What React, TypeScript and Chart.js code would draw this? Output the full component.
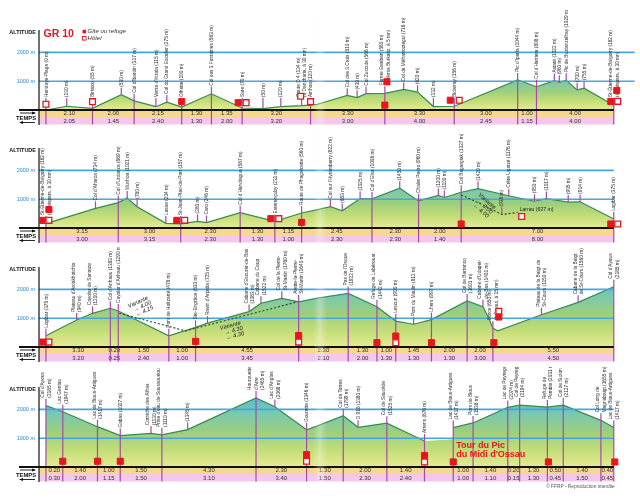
import React, { useEffect, useRef } from "react";
import { Chart, registerables } from "chart.js";

Chart.register(...registerables);

// [label (columns split by \n), km along the strip, profile altitude (m), 1 = full-height marker line]
type WP = [string, number, number, number];
type PT = [number, number];

// ---------- Strip 1 : Hendaye -> St-Étienne-de-Baïgorry ----------
const s1Waypoints: WP[] = [
  ["Hendaye-Plage (0 m)", 0.7, 0, 1],
  ["(130 m)", 2.8, 130, 0],
  ["Biriatou (55 m)", 5.4, 55, 1],
  ["(530 m)", 8.3, 530, 0],
  ["Col d'Ibardin (317 m)", 9.6, 317, 1],
  ["Venta d'Inzola (115 m)", 11.8, 115, 0],
  ["Col du Grand Escalier (275 m)", 12.9, 275, 0],
  ["Olhette (100 m)", 14.4, 100, 1],
  ["Col des 3 Fontaines (563 m)", 17.4, 563, 1],
  ["Sare (70 m)", 20.5, 70, 1],
  ["(50 m)", 22.6, 50, 0],
  ["(120 m)", 24.4, 120, 0],
  ["Route D 4 (134 m)\n(à Dancharia, à 30 mn)", 26.5, 150, 0],
  ["Ainhoa (120 m)", 27.4, 170, 1],
  ["Col des 3 Croix (510 m)", 31.1, 510, 0],
  ["(430 m)", 32.1, 430, 0],
  ["Col Zuccuia (566 m)", 33.0, 566, 0],
  ["Ferme Esteben (580 m)\n(à Venta Burkaitz, à 5 mn)", 34.9, 580, 1],
  ["Col de Méharroztegui (716 m)", 36.8, 716, 0],
  ["(620 m)", 38.2, 620, 0],
  ["(132 m)", 39.8, 120, 0],
  ["Bidarray (156 m)", 41.9, 130, 1],
  ["Pic d'Iparla (1044 m)", 48.3, 1044, 1],
  ["Col d'Harrieta (808 m)", 50.2, 808, 1],
  ["Astaté (1022 m)", 52.0, 1022, 0],
  ["(960 m)", 52.5, 960, 0],
  ["Pic de Buztanzelhay (1029 m)", 53.2, 1029, 0],
  ["(700 m)", 54.3, 700, 0],
  ["(755 m)", 55.0, 755, 0],
  ["St-Étienne-de-Baïgorry (162 m)\n(à Leispars, à 30 mn)", 58.0, 162, 1],
];
const s1Extra: PT[] = [[28.1, 200]];
const s1Yellow = ["2.10", "2.00", "2.15", "1.30", "1.35", "3.20", "3.30", "3.30", "3.00", "1.00", "4.00"];
const s1Pink = ["2.05", "1.45", "2.40", "1.30", "2.00", "3.20", "3.00", "4.00", "2.45", "1.15", "4.00"];
const s1Gites: PT[] = [[14.4, 290], [20.1, 255], [35.1, 980], [34.9, 170], [41.5, 340], [57.7, 300], [58.3, 680]];
const s1Hotels: PT[] = [[0.7, 200], [5.4, 290], [20.9, 255], [26.4, 480], [27.4, 290], [42.4, 340], [58.4, 300]];

// ---------- Strip 2 : St-Étienne -> Logibar ----------
const s2Waypoints: WP[] = [
  ["St-Étienne-de-Baïgorry (162 m)\n(à Leispars, à 30 mn)", 0.7, 150, 1],
  ["Col d'Aharza (734 m)", 5.7, 680, 0],
  ["Col d'Urdanza (869 m)", 8.0, 880, 1],
  ["Munhoa (1021 m)", 8.9, 1040, 0],
  ["(780 m)", 9.9, 740, 0],
  ["Lasse (204 m)", 12.8, 160, 0],
  ["St-Jean-Pied-de-Port (157 m)", 14.3, 140, 1],
  ["(280 m)", 16.0, 230, 0],
  ["Caro (246 m)", 16.9, 190, 0],
  ["Col d'Handiague (587 m)", 20.3, 530, 1],
  ["Estérençuby (231 m)", 23.8, 230, 1],
  ["Route de Phagalcette (560 m)", 26.5, 520, 1],
  ["Col sur l'Hyramberry (822 m)", 29.4, 740, 0],
  ["(653 m)", 30.6, 600, 0],
  ["(1025 m)", 32.4, 1020, 0],
  ["Col d'Elsa (1008 m)", 33.6, 1010, 1],
  ["(1450 m)", 36.4, 1380, 0],
  ["Chalet Pedro (960 m)", 38.3, 940, 1],
  ["(1200 m)", 40.3, 1130, 0],
  ["(1100 m)", 40.9, 1060, 0],
  ["Col Bagargiak (1327 m)", 42.6, 1240, 1],
  ["(1420 m)", 44.3, 1370, 0],
  ["Crête Ugatzé (1176 m)", 47.4, 1120, 0],
  ["(950 m)", 50.0, 930, 0],
  ["(1017 m)", 51.2, 1020, 0],
  ["(905 m)", 53.4, 900, 0],
  ["(914 m)", 54.6, 910, 0],
  ["Logibar (375 m)", 58.0, 310, 1],
];
const s2Extra: PT[] = [[28.1, 640]];
const s2Yellow = ["3.15", "3.00", "2.30", "1.30", "1.15", "2.45", "2.30", "2.00", "7.00"];
const s2Pink = ["3.00", "3.15", "2.30", "1.30", "1.00", "2.30", "2.30", "1.40", "8.00"];
const s2Gites: PT[] = [[0.3, 265], [1.0, 640], [13.9, 265], [23.4, 325], [26.5, 195], [42.6, 140], [57.7, 140]];
const s2Hotels: PT[] = [[1.0, 265], [14.7, 265], [24.2, 325], [48.7, 400], [58.4, 140]];
const s2Variante: PT[] = [[42.6, 1150], [44.8, 800], [46.7, 470], [48.3, 540]];
const s2VarWaypoints: WP[] = [["(938 m)", 46.7, 470, 0]];
const s2VarTexts: [string[], number, number, number][] = [[["Variante", "→ 3.00", "← 4.00"], 45.2, 930, 42]];
const s2Notes: [string, number, number][] = [["Larrau (637 m)", 48.5, 640]];

// ---------- Strip 3 : Logibar -> Col d'Ayous ----------
const s3Waypoints: WP[] = [
  ["Logibar (375 m)", 0.7, 390, 1],
  ["Plateau d'Ardakhotchia\n(940 m)", 3.8, 940, 0],
  ["Cayolar de Sanatze\n(1200 m)", 5.4, 1170, 0],
  ["Col d'Anhaou (1383 m)", 7.2, 1345, 1],
  ["Cayolar d'Anhaou (1290 m)", 8.0, 1250, 1],
  ["Pont de Holtzarté (478 m)", 13.1, 390, 1],
  ["Ste-Engrâce (630 m)", 15.8, 680, 1],
  ["Ravin d'Arpidia (725 m)", 17.0, 830, 0],
  ["Cabane d'Escuret-de-Bas\n(1083 m)", 21.2, 1230, 0],
  ["Cabane du Coup\n(1522 m)", 22.4, 1520, 0],
  ["Col de la Pierre-\nSt-Martin (1760 m)", 24.5, 1690, 0],
  ["Arette-la-Pierre-\nSt-Martin (1640 m)", 26.2, 1570, 1],
  ["Pas de l'Osque\n(1922 m)", 31.2, 1860, 1],
  ["Refuge de Labérouat\n(1442 m)", 34.1, 1400, 1],
  ["Lescun (900 m)", 36.0, 900, 1],
  ["Pont du Moulin (812 m)", 37.8, 790, 0],
  ["Lhers (997 m)", 39.6, 950, 1],
  ["Col de Barrancq\n(1601 m)", 43.2, 1600, 1],
  ["Cabane d'Udapet-\nde-Bas (1401 m)", 44.8, 1400, 0],
  ["Borce (650 m)\n(à Etsaut, à 15 mn)", 45.8, 650, 1],
  ["Plateau de la Baigt de\nSt-Cours (1150 m)", 50.7, 1120, 0],
  ["Cabane de la Baigt\nde St-Cours (1560 m)", 54.4, 1550, 0],
  ["Col d'Ayous\n(2185 m)", 58.0, 2090, 1],
];
const s3Extra: PT[] = [[28.1, 1700], [45.4, 1000], [46.3, 560]];
const s3Yellow = ["3.30", "0.20", "1.50", "1.00", "4.55", "2.30", "1.30", "1.00", "1.45", "2.00", "2.00", "5.50"];
const s3Pink = ["3.20", "0.25", "2.40", "1.00", "3.45", "2.10", "2.00", "1.30", "1.30", "1.30", "3.00", "4.50"];
const s3Gites: PT[] = [[0.4, 170], [15.8, 195], [26.2, 400], [34.1, 150], [36.0, 380], [39.6, 150], [45.9, 150], [46.4, 1040]];
const s3Hotels: PT[] = [[1.0, 170], [26.2, 170], [36.0, 150], [46.4, 1240]];
const s3Variante: PT[] = [[8.1, 1170], [14.8, 560], [26.1, 1570]];
const s3VarTexts: [string[], number, number, number][] = [
  [["Variante", "→ 4.00", "← 4.15"], 10.0, 1560, -25],
  [["Variante", "→ 4.30", "← 4.30"], 19.3, 740, -15],
];

// ---------- Strip 4 : Col d'Ayous -> Lac de Bious-Artigues ----------
const s4Waypoints: WP[] = [
  ["Col d'Ayous\n(2185 m)", 0.7, 2130, 1],
  ["Lac Gentau\n(1947 m)", 2.4, 1920, 1],
  ["Lac de Bious-Artigues\n(1417 m)", 5.9, 1400, 1],
  ["Gabas (1027 m)", 8.2, 1090, 1],
  ["Corniche des Alhas\n(1130 m)", 11.3, 1170, 0],
  ["Prise d'eau de Soussouéou\n(1110 m)", 12.4, 1115, 1],
  ["(1345 m)", 15.0, 1300, 0],
  ["Hourquette\nd'Arre\n(2465 m)", 21.9, 2400, 1],
  ["Lac d'Anglas\n(2068 m)", 23.8, 2090, 0],
  ["Gourette (1346 m)", 27.0, 1290, 1],
  ["Col de Tortes\n(1799 m)", 30.7, 1780, 1],
  ["D 918 (1380 m)", 32.2, 1380, 0],
  ["Col de Saucède\n(1525 m)", 35.1, 1520, 1],
  ["Arrens (876 m)", 38.9, 900, 1],
  ["Lac de Bious-Artigues\n(1417 m)", 41.8, 1370, 1],
  ["Pont de Bious\n(1538 m)", 43.8, 1530, 1],
  ["Lac de Peyreget\n(2074 m)", 47.3, 2070, 1],
  ["Col de Peyreget\n(2194 m)", 48.5, 2150, 1],
  ["Refuge de\nPombie (2031 m)", 51.3, 2080, 1],
  ["Col de Suzon\n(2127 m)", 52.9, 2150, 1],
  ["Col Long de\nMagnabaigt (1655 m)", 56.7, 1620, 1],
  ["Lac de Bious-Artigues\n(1417 m)", 58.0, 1370, 1],
];
const s4Extra: PT[] = [[28.1, 1430], [41.75, 960]];
const s4Gap: PT = [38.9, 41.8];
const s4Yellow = ["0.20", "1.40", "1.00", "1.50", "4.30", "2.30", "1.30", "2.00", "1.40", "", "1.00", "1.40", "0.20", "1.30", "0.50", "1.40", "0.40"];
const s4Pink = ["0.30", "2.00", "1.15", "1.50", "3.10", "3.40", "1.50", "2.30", "2.40", "", "1.00", "1.10", "0.15", "1.30", "0.45", "1.50", "0.45"];
const s4Gites: PT[] = [[2.4, 200], [5.9, 200], [8.2, 200], [27.0, 430], [38.9, 400], [41.8, 175], [51.4, 175], [58.1, 175]];
const s4Hotels: PT[] = [[27.0, 200], [38.9, 175]];
const s4Title = ["Tour du Pic", "du Midi d'Ossau"];
const s4TitleAt: PT = [42.1, 740];

const altitudeTicks = [1000, 2000];

// ---------- styles ----------
const SANS = "'Liberation Sans', Arial, sans-serif";
const RED = "#e8161c";
const PURPLE = "#a24da2";
const BLUE = "#45a6e0";

interface StripDef {
  id: number;
  base: number;
  h: number;
  wps: WP[];
  extra: PT[];
  yellow: string[];
  pink: string[];
  gites: PT[];
  hotels: PT[];
  blueEnd: number;
  gradTop: number;
  legend?: boolean;
  variante?: PT[];
  varWps?: WP[];
  varTexts?: [string[], number, number, number][];
  notes?: [string, number, number][];
  gap?: PT;
  title?: string[];
  titleAt?: PT;
  copyright?: boolean;
}

const STRIPS: StripDef[] = [
  { id: 1, base: 110, h: 118, wps: s1Waypoints, extra: s1Extra, yellow: s1Yellow, pink: s1Pink, gites: s1Gites, hotels: s1Hotels, blueEnd: 60.1, gradTop: 1300, legend: true },
  { id: 2, base: 228, h: 118, wps: s2Waypoints, extra: s2Extra, yellow: s2Yellow, pink: s2Pink, gites: s2Gites, hotels: s2Hotels, blueEnd: 58.0, gradTop: 1700, variante: s2Variante, varWps: s2VarWaypoints, varTexts: s2VarTexts, notes: s2Notes },
  { id: 3, base: 347, h: 118, wps: s3Waypoints, extra: s3Extra, yellow: s3Yellow, pink: s3Pink, gites: s3Gites, hotels: s3Hotels, blueEnd: 58.0, gradTop: 2300, variante: s3Variante, varTexts: s3VarTexts },
  { id: 4, base: 467, h: 132, wps: s4Waypoints, extra: s4Extra, yellow: s4Yellow, pink: s4Pink, gites: s4Gites, hotels: s4Hotels, blueEnd: 58.0, gradTop: 2400, gap: s4Gap, title: s4Title, titleAt: s4TitleAt, copyright: true },
];

function profileOf(def: StripDef) {
  const pts = def.wps.map((w) => ({ x: w[1], y: w[2] })).concat(def.extra.map((e) => ({ x: e[0], y: e[1] })));
  pts.sort((a, b) => a.x - b.x);
  return pts;
}

function drawWaypoint(ctx: CanvasRenderingContext2D, x: any, y: any, base: number, w: WP) {
  const px = x.getPixelForValue(w[1]);
  const py = y.getPixelForValue(w[2]);
  const lb = Math.min(py - 7, base - 12);
  ctx.strokeStyle = PURPLE;
  ctx.lineWidth = 1.2;
  ctx.beginPath();
  ctx.moveTo(px, lb);
  ctx.lineTo(px, w[3] ? base + 14.5 : py);
  ctx.stroke();
  const cols = w[0].split("\n");
  ctx.fillStyle = "#2e2e2e";
  ctx.font = `6px ${SANS}`;
  ctx.textAlign = "left";
  ctx.textBaseline = "middle";
  cols.forEach((c, i) => {
    const off = (i - (cols.length - 1) / 2) * 6.3;
    ctx.save();
    ctx.translate(px + off, lb - 1);
    ctx.rotate(-Math.PI / 2);
    ctx.scale(0.8, 1);
    ctx.fillText(c, 0, 0);
    ctx.restore();
  });
}

function makeDecor(def: StripDef) {
  return {
    id: "decor" + def.id,
    beforeDatasetsDraw(chart: any) {
      const { ctx, chartArea: ca, scales } = chart;
      const x = scales.x;
      const y = scales.y;
      const base = y.getPixelForValue(0);
      const longs = def.wps.filter((w) => w[3]).map((w) => w[1]);
      const bandEnd = x.getPixelForValue(longs[longs.length - 1]);
      ctx.save();
      ctx.fillStyle = "#f6d88c";
      ctx.fillRect(ca.left, base, bandEnd - ca.left, 7);
      ctx.fillStyle = "#f3c8ea";
      ctx.fillRect(ca.left, base + 7, bandEnd - ca.left, 7.5);
      ctx.fillStyle = "#333";
      ctx.font = `6px ${SANS}`;
      ctx.textAlign = "center";
      ctx.textBaseline = "middle";
      for (let i = 0; i < longs.length - 1; i++) {
        const cx = (x.getPixelForValue(longs[i]) + x.getPixelForValue(longs[i + 1])) / 2;
        ctx.fillText(def.yellow[i] ?? "", cx, base + 3.8);
        ctx.fillText(def.pink[i] ?? "", cx, base + 11);
      }
      ctx.restore();
    },
    afterDatasetDraw(chart: any, args: any) {
      if (args.index !== 0) return;
      const { ctx, chartArea: ca, scales } = chart;
      const x = scales.x;
      const y = scales.y;
      const base = y.getPixelForValue(0);
      const longs = def.wps.filter((w) => w[3]).map((w) => w[1]);
      const bandEnd = x.getPixelForValue(longs[longs.length - 1]);
      ctx.save();
      // altitude reference lines
      ctx.strokeStyle = BLUE;
      ctx.lineWidth = 1.6;
      altitudeTicks.forEach((a) => {
        const py = y.getPixelForValue(a);
        ctx.beginPath();
        ctx.moveTo(ca.left, py);
        ctx.lineTo(x.getPixelForValue(def.blueEnd), py);
        ctx.stroke();
      });
      ctx.fillStyle = "#2c8ad2";
      ctx.font = `5.5px ${SANS}`;
      ctx.textAlign = "right";
      ctx.textBaseline = "middle";
      altitudeTicks.forEach((a) => ctx.fillText(`${a} m`, ca.left - 4, y.getPixelForValue(a)));
      // waypoints
      def.wps.forEach((w) => drawWaypoint(ctx, x, y, base, w));
      (def.varWps || []).forEach((w) => drawWaypoint(ctx, x, y, base, w));
      // axis
      ctx.strokeStyle = "#111";
      ctx.lineWidth = 1.2;
      ctx.beginPath();
      ctx.moveTo(ca.left, base - 80);
      ctx.lineTo(ca.left, base + 15);
      ctx.stroke();
      ctx.lineWidth = 2;
      ctx.beginPath();
      ctx.moveTo(19, base);
      ctx.lineTo(bandEnd, base);
      ctx.stroke();
      ctx.fillStyle = "#111";
      ctx.font = `bold 5.5px ${SANS}`;
      ctx.textAlign = "right";
      ctx.fillText("ALTITUDE", ca.left - 3, base - 78);
      ctx.font = `bold 5.8px ${SANS}`;
      ctx.fillText("TEMPS", ca.left - 3, base + 8);
      // arrows
      ctx.lineWidth = 0.9;
      ctx.beginPath();
      ctx.moveTo(20, base + 3);
      ctx.lineTo(35, base + 3);
      ctx.moveTo(20, base + 12.5);
      ctx.lineTo(35, base + 12.5);
      ctx.stroke();
      ctx.beginPath();
      ctx.moveTo(36, base + 3);
      ctx.lineTo(32, base + 1.5);
      ctx.lineTo(32, base + 4.5);
      ctx.closePath();
      ctx.moveTo(19, base + 12.5);
      ctx.lineTo(23, base + 11);
      ctx.lineTo(23, base + 14);
      ctx.closePath();
      ctx.fill();
      // paper fold
      const g = ctx.createLinearGradient(313, 0, 327, 0);
      g.addColorStop(0, "rgba(255,255,255,0)");
      g.addColorStop(0.5, "rgba(255,255,255,0.3)");
      g.addColorStop(1, "rgba(255,255,255,0)");
      ctx.fillStyle = g;
      ctx.fillRect(313, 0, 14, chart.height);
      ctx.restore();
    },
    afterDraw(chart: any) {
      const { ctx, chartArea: ca, scales } = chart;
      const x = scales.x;
      const y = scales.y;
      const base = y.getPixelForValue(0);
      ctx.save();
      (def.varTexts || []).forEach(([lines, km, alt, ang]) => {
        ctx.save();
        ctx.translate(x.getPixelForValue(km), y.getPixelForValue(alt));
        ctx.rotate((ang * Math.PI) / 180);
        ctx.fillStyle = "#222";
        ctx.font = `italic 5.8px ${SANS}`;
        ctx.textAlign = "center";
        ctx.textBaseline = "middle";
        lines.forEach((l, i) => ctx.fillText(l, i === 0 ? 0 : 2, i * 5.5));
        ctx.restore();
      });
      (def.notes || []).forEach(([t, km, alt]) => {
        ctx.save();
        ctx.fillStyle = "#222";
        ctx.font = `6px ${SANS}`;
        ctx.textAlign = "left";
        ctx.textBaseline = "middle";
        ctx.translate(x.getPixelForValue(km), y.getPixelForValue(alt));
        ctx.scale(0.85, 1);
        ctx.fillText(t, 0, 0);
        ctx.restore();
      });
      if (def.title && def.titleAt) {
        ctx.fillStyle = RED;
        ctx.font = `bold 9px ${SANS}`;
        ctx.textAlign = "left";
        ctx.textBaseline = "middle";
        def.title.forEach((t, i) => ctx.fillText(t, x.getPixelForValue(def.titleAt![0]), y.getPixelForValue(def.titleAt![1]) + i * 8.8));
      }
      if (def.legend) {
        ctx.fillStyle = RED;
        ctx.font = `bold 10.5px ${SANS}`;
        ctx.textAlign = "left";
        ctx.textBaseline = "middle";
        ctx.fillText("GR 10", ca.left + 4.5, base - 75.5);
        ctx.fillRect(82.5, base - 80.2, 3.6, 3.6);
        ctx.strokeStyle = RED;
        ctx.lineWidth = 0.9;
        ctx.fillStyle = "#fff";
        ctx.fillRect(82.5, base - 73.5, 3.6, 3.6);
        ctx.strokeRect(82.5, base - 73.5, 3.6, 3.6);
        ctx.fillStyle = "#333";
        ctx.font = `italic 6px ${SANS}`;
        ctx.fillText("Gîte ou refuge", 87.5, base - 78.2);
        ctx.fillText("Hôtel", 87.5, base - 71.5);
      }
      if (def.copyright) {
        ctx.fillStyle = "#555";
        ctx.font = `4.8px ${SANS}`;
        ctx.textAlign = "right";
        ctx.textBaseline = "middle";
        ctx.fillText("© FFRP - Reproduction interdite", x.getPixelForValue(58.1), base + 20);
      }
      ctx.restore();
    },
  };
}

function Strip({ def }: { def: StripDef }) {
  const ref = useRef<HTMLCanvasElement>(null);
  useEffect(() => {
    const canvas = ref.current!;
    const gap = def.gap;
    const datasets: any[] = [
      {
        type: "line",
        data: profileOf(def),
        order: 5,
        borderColor: "#3b8a4e",
        borderWidth: 1.2,
        pointRadius: 0,
        tension: 0,
        fill: "origin",
        segment: gap
          ? {
              borderColor: (c: any) => (c.p0.parsed.x >= gap[0] - 0.001 && c.p1.parsed.x <= gap[1] + 0.001 ? "rgba(0,0,0,0)" : "#3b8a4e"),
            }
          : undefined,
        backgroundColor: (c: any) => {
          const ch = c.chart;
          if (!ch.chartArea) return "rgba(0,0,0,0)";
          const ys = ch.scales.y;
          const g = ch.ctx.createLinearGradient(0, ys.getPixelForValue(0), 0, ys.getPixelForValue(def.gradTop));
          g.addColorStop(0, "#e6eb92");
          g.addColorStop(0.25, "#c2dd78");
          g.addColorStop(0.5, "#9ccf7e");
          g.addColorStop(0.75, "#7cc9ac");
          g.addColorStop(1, "#5cbdcc");
          return g;
        },
      },
    ];
    if (def.variante) {
      datasets.push({
        type: "line",
        data: def.variante.map((p) => ({ x: p[0], y: p[1] })),
        order: 3,
        borderColor: "#24452f",
        borderWidth: 1.1,
        borderDash: [2, 2],
        pointRadius: 0,
        fill: false,
      });
    }
    datasets.push({
      type: "line",
      data: def.hotels.map((p) => ({ x: p[0], y: p[1] })),
      order: 1,
      showLine: false,
      pointStyle: "rect",
      pointRadius: 4.1,
      pointBackgroundColor: "#fff",
      pointBorderColor: RED,
      pointBorderWidth: 1.3,
    });
    datasets.push({
      type: "line",
      data: def.gites.map((p) => ({ x: p[0], y: p[1] })),
      order: 0,
      showLine: false,
      pointStyle: "rect",
      pointRadius: 4.3,
      pointBackgroundColor: RED,
      pointBorderColor: RED,
      pointBorderWidth: 1,
    });
    const chart = new Chart(canvas, {
      type: "line",
      data: { datasets },
      options: {
        animation: false,
        responsive: false,
        maintainAspectRatio: false,
        devicePixelRatio: 1,
        events: [],
        layout: { padding: { left: 39, right: 0, top: 13.6, bottom: def.h - 100 } },
        scales: {
          x: { type: "linear", min: 0, max: 60.1, display: false },
          y: { type: "linear", min: 0, max: 3000, display: false },
        },
        plugins: { legend: { display: false }, tooltip: { enabled: false } },
      },
      plugins: [makeDecor(def)],
    } as any);
    return () => chart.destroy();
  }, [def]);
  return (
    <canvas
      ref={ref}
      width={640}
      height={def.h}
      style={{ position: "absolute", left: 0, top: def.base - 100, width: 640, height: def.h, display: "block" }}
    />
  );
}

export default function App() {
  return (
    <div style={{ position: "fixed", left: 0, top: 0, width: 640, height: 501, background: "#fff", overflow: "hidden" }}>
      {STRIPS.map((d) => (
        <Strip key={d.id} def={d} />
      ))}
    </div>
  );
}
